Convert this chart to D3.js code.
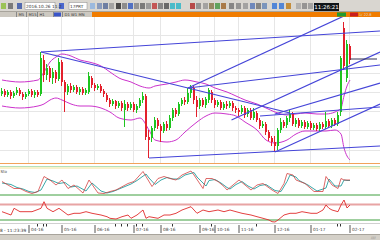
<!DOCTYPE html>
<html><head><meta charset="utf-8">
<script src="https://cdn.jsdelivr.net/npm/d3@7/dist/d3.min.js"></script>
<style>html,body{margin:0;padding:0;background:#fff;overflow:hidden}svg{display:block;font-family:"DejaVu Sans",sans-serif}</style>
</head><body><svg id="c" width="380" height="240"></svg>
<script>
// ---------- DATA ----------
const openP  = [10.6,10.9,10.5,10.8,10.4,10.7,11.0,10.6,10.3,10.6,10.9,10.5,10.8,10.6,14.0,12.5,13.2,12.2,12.8,12.1,13.8,11.8,10.8,11.4,11.0,11.3,10.8,11.1,10.7,10.8,12.2,11.5,11.2,11.4,10.9,10.5,10.0,9.6,9.9,9.4,9.7,9.0,9.6,9.2,9.6,9.0,9.4,10.0,10.4,6.3,6.2,7.2,8.0,7.4,6.9,7.6,7.2,8.2,9.0,8.6,9.6,10.0,9.8,10.7,11.2,10.0,9.4,10.0,9.5,10.0,10.8,10.0,9.5,9.8,9.2,9.6,9.4,9.7,9.2,9.0,8.8,9.2,8.6,9.0,8.2,8.7,8.0,7.4,7.6,6.8,6.2,5.8,5.4,7.0,7.8,7.5,8.2,8.6,7.6,8.0,7.4,7.8,7.3,7.7,7.2,7.5,7.1,7.6,7.3,7.9,7.4,8.0,7.6,8.8,17.2,12.2,15.4];
const closeP = [10.9,10.5,10.8,10.4,10.7,11.0,10.6,10.3,10.6,10.9,10.5,10.8,10.5,14.2,12.5,13.2,12.2,12.8,12.1,13.8,11.8,10.8,11.4,11.0,11.3,10.8,11.1,10.7,11.0,12.4,11.5,11.2,11.4,10.9,10.6,10.0,9.6,9.9,9.4,9.7,9.2,9.6,9.2,9.6,9.0,9.4,10.0,10.4,6.3,6.0,7.2,8.0,7.4,6.9,7.6,7.2,8.2,9.0,8.6,9.6,10.0,9.8,10.7,11.2,10.0,9.3,10.0,9.5,10.1,11.0,10.0,9.5,9.8,9.2,9.6,9.4,9.7,9.2,9.0,8.8,9.2,8.5,9.0,8.2,8.8,8.0,7.4,7.6,6.8,6.2,5.8,5.4,7.0,7.8,7.4,8.2,8.6,7.6,8.0,7.4,7.8,7.3,7.7,7.2,7.5,7.1,7.6,7.3,7.9,7.4,8.0,7.6,8.5,14.2,13.4,15.6,14.0];
const highP  = [11.2,11.1,11.0,11.0,10.9,11.3,11.2,10.8,10.8,11.1,11.1,11.0,11.0,14.8,14.5,13.6,13.4,13.2,13.0,14.2,14.0,12.0,11.6,11.7,11.5,11.5,11.3,11.3,11.2,12.8,12.4,11.7,11.6,11.6,11.1,10.7,10.2,10.1,10.0,9.9,9.9,10.0,9.8,9.8,9.8,9.6,10.2,10.8,10.6,7.0,7.4,8.3,8.2,7.6,7.8,7.9,8.5,9.2,9.2,9.8,10.2,10.3,11.2,11.5,11.4,10.4,10.2,10.2,10.3,11.2,11.0,10.2,10.0,10.0,9.8,9.9,9.9,9.9,9.4,9.2,9.5,9.4,9.2,9.2,9.2,8.9,8.2,7.9,7.8,7.0,6.4,6.4,7.2,8.2,8.0,8.4,9.0,8.8,8.2,8.2,8.0,8.0,7.9,7.9,7.7,7.7,7.8,7.8,8.8,8.1,8.2,8.2,8.8,14.4,17.8,16.0,15.6];
const lowP   = [10.4,10.3,10.3,10.1,10.2,10.5,10.4,10.0,10.1,10.4,10.3,10.2,10.3,10.4,11.8,12.0,11.8,11.6,11.7,11.9,11.4,8.8,10.5,10.7,10.8,10.6,10.5,10.5,10.5,10.6,11.2,10.9,11.0,10.7,10.3,9.8,9.3,9.4,9.1,9.2,8.9,7.3,8.9,9.0,8.8,8.7,9.2,9.7,6.0,4.2,5.8,6.9,7.1,5.8,6.7,6.9,7.0,7.9,8.3,8.4,9.4,9.5,9.6,10.2,9.6,8.3,9.1,9.3,9.2,9.7,9.7,9.2,9.3,9.0,9.0,9.1,9.2,8.9,8.7,8.4,8.6,8.2,8.3,8.0,8.0,7.8,7.1,7.2,6.5,5.9,5.4,4.8,5.0,6.7,7.2,7.2,7.8,7.4,7.3,7.2,7.2,7.1,7.1,7.0,7.0,6.9,6.9,7.1,7.1,7.2,7.2,7.4,7.4,8.4,13.0,11.8,13.6];
const upperBand = [[0,12.0],[6,11.8],[12,12.0],[14,12.8],[16,13.8],[18,14.3],[20,14.6],[23,14.4],[26,14.0],[29,13.8],[33,13.4],[36,12.8],[39,12.2],[43,11.8],[46,11.4],[49,11.2],[51,11.4],[55,11.6],[58,11.8],[61,12.0],[65,11.8],[68,11.6],[71,11.2],[75,10.8],[78,10.4],[81,10.0],[85,9.6],[88,9.2],[91,8.8],[95,8.5],[98,8.6],[101,8.7],[105,8.6],[108,8.6],[111,8.8],[113,9.2],[114,10.4],[115,11.4],[116,12.0]];
const lowerBand = [[0,9.4],[6,9.2],[12,9.4],[14,9.6],[16,10.0],[18,10.2],[20,10.0],[23,9.6],[26,9.4],[29,9.4],[33,9.2],[36,8.8],[39,8.2],[43,8.0],[46,8.2],[49,7.0],[51,6.0],[55,5.8],[58,6.0],[61,6.8],[65,7.8],[68,8.4],[71,8.7],[75,8.6],[78,8.4],[81,7.8],[85,7.0],[88,6.0],[91,5.7],[95,6.0],[98,6.6],[101,6.9],[105,6.9],[108,6.9],[111,7.0],[113,6.6],[114,5.2],[115,4.4],[116,4.0]];
const trendLines = [
  [[13,14.8],[126,16.9]],
  [[13,14.8],[96,8.7]],
  [[49,4.2],[126,5.4]],
  [[62,11.2],[114,18.4]],
  [[76.5,8.0],[126,14.8]],
  [[91,4.8],[126,9.6]],
  [[62,11.2],[126,13.5]],
  [[91,8.6],[126,11.7]],
  [[86,8.4],[126,9.3]]
];
const lastPrice = 14.1;
const priceGrid = [16.5,14.6,12.7,10.8,8.9,7.0,5.0];
const timeTicks  = [9,20,31,44,53,66,71,79,91,103,116];
const timeLabels = ["04-16","05-16","06-16","07-16","08-16","09-16","10-16","11-16","12-16","01-17","02-17"];
const minorTicks = [12,14,15,38,40,42,45,47,57,70,85,112,113];
const oscK = [[0,33],[2,26],[4,19],[6,19],[8,13],[10,9],[12,13],[14,43],[16,36],[18,26],[20,36],[22,19],[24,26],[27,10],[29,36],[32,10],[34,9],[36,13],[38,16],[42,29],[44,33],[47,53],[48,43],[50,23],[52,39],[54,43],[56,39],[58,36],[60,46],[63,54],[64,46],[67,19],[68,39],[70,39],[72,33],[74,23],[75,16],[77,26],[79,36],[81,26],[83,16],[85,26],[87,29],[90,16],[92,9],[94,29],[95,49],[97,46],[98,36],[101,29],[104,13],[107,13],[108,43],[110,26],[112,19],[113,39],[114,36],[116,36]];
const oscD = [[0,30],[3,27],[5,21],[7,18],[9,13],[11,11],[13,16],[15,38],[17,34],[19,29],[21,31],[23,22],[25,24],[28,14],[30,30],[33,14],[35,10],[37,13],[39,18],[43,28],[45,35],[48,48],[49,40],[51,27],[53,36],[55,41],[57,38],[59,38],[61,46],[64,51],[65,42],[68,24],[69,35],[71,37],[73,30],[75,21],[76,18],[78,27],[80,33],[82,24],[84,18],[86,25],[88,27],[91,15],[93,13],[95,33],[96,46],[98,42],[99,35],[102,26],[105,14],[108,20],[109,38],[111,24],[113,24],[114,36],[115,35],[116,35]];
const oscLevels = [60, 6];
const momentum = [[0,0.3],[3,-3],[4,3.7],[6,0.3],[10,0.3],[13,3.7],[14,10.3],[15,3.7],[17,0.3],[19,3.7],[22,-3],[24,-1.3],[26,-1.3],[28,0.3],[30,-1.3],[33,-3],[35,-4.7],[36,-6.3],[38,-7],[40,-4.7],[42,-3],[43,-6.3],[45,-3],[47,2],[48,-6.3],[49,-4.7],[52,-6.3],[54,-3],[56,-3],[58,-1.3],[60,2],[63,5.3],[65,-1.3],[67,2],[69,0.3],[72,2],[74,0.3],[76,2],[78,0.3],[80,-1.3],[83,-3],[85,-4.7],[87,-6.3],[89,-8],[90,-9.7],[91,-10],[92,-8],[94,-3],[96,-1.3],[98,-1.3],[100,0.3],[103,-1.3],[105,-1.3],[107,2],[108,7],[109,3.7],[110,2],[112,0.3],[113,7],[114,12],[115,4],[116,7]];
const momLevels = [7.5, -8];

// ---------- DRAW ----------
const W = 380, H = 240;
const svg = d3.select("#c");
const x = d3.scaleLinear().domain([0,116]).range([2,350]);
const yMain = d3.scaleLinear().domain([3.7,18.4]).range([163,16]);
const yOsc = d3.scaleLinear().domain([0,60]).range([198,168]);
const yMom = d3.scaleLinear().domain([-10,12]).range([222,200]);

// toolbar
svg.append("rect").attr("width",W).attr("height",12).attr("fill","#d9d6d0");
svg.append("line").attr("x1",0).attr("x2",W).attr("y1",11.5).attr("y2",11.5).attr("stroke","#a8a49c");
const icons = [[1,"#8fbf3f"],[8,"#6a6a6a"],[17,"#3b57a8"],[59,"#3355cc"],[90,"#8fb4e0"],[97,"#7a8fb8"],[103,"#5a6f9a"],[109,"#9a9a9a"],[116,"#333"],[122,"#7f7f7f"],[128,"#3a5fc0"],[134,"#8a8a8a"],[140,"#6a6a6a"],[146,"#909090"],[152,"#c04040"],[158,"#777"],[164,"#555"],[170,"#2fb6c8"],[176,"#2fb6c8"],[190,"#b03030"],[196,"#888"],[203,"#999"],[209,"#8a7a50"],[215,"#4a9a4a"],[221,"#a06a30"],[229,"#777"],[236,"#888"],[243,"#999"],[250,"#5a7ab8"],[256,"#777"],[262,"#6a8ab8"],[272,"#3a78d8"],[279,"#3a78d8"],[286,"#c08020"],[296,"#aaa"],[302,"#888"],[308,"#999"]];
svg.append("g").selectAll("rect").data(icons).join("rect")
  .attr("x",d=>d[0]).attr("y",3).attr("width",5).attr("height",6).attr("fill",d=>d[1]).attr("opacity",0.85);
svg.append("rect").attr("x",25).attr("y",2.5).attr("width",30).attr("height",7).attr("fill","#fff").attr("stroke","#8a8a8a").attr("stroke-width",0.5);
svg.append("text").attr("x",26).attr("y",8).attr("font-size",4.3).attr("fill","#333").text("2016.10.26 11:2");
svg.append("rect").attr("x",69).attr("y",2.5).attr("width",18).attr("height",7).attr("fill","#fff").attr("stroke","#8a8a8a").attr("stroke-width",0.5);
svg.append("text").attr("x",70).attr("y",8).attr("font-size",4.3).attr("fill","#333").text("17PRT");
svg.append("rect").attr("x",314).attr("y",3).attr("width",25).attr("height",8).attr("fill","#101418");
svg.append("text").attr("x",326.5).attr("y",9.2).attr("font-size",5.5).attr("text-anchor","middle").attr("fill","#fff").text("11:26:21");

// tab row
svg.append("rect").attr("y",12).attr("width",W).attr("height",5).attr("fill","#cdc9c1");
svg.append("rect").attr("x",92).attr("y",12).attr("width",W-92).attr("height",5).attr("fill","#f07c00");
const tabs = [[17,"M5"],[27,"M15"],[38,"H1"],[54,""],[63,"D1 W1 MN"]];
svg.append("rect").attr("x",54).attr("y",12.5).attr("width",7).attr("height",4).attr("fill","#3a55c8");
tabs.forEach(t=>{
  svg.append("line").attr("x1",t[0]-0.5).attr("x2",t[0]-0.5).attr("y1",12).attr("y2",17).attr("stroke","#888");
  svg.append("text").attr("x",t[0]+1.5).attr("y",16.2).attr("font-size",3.8).attr("fill","#333").text(t[1]);
});
svg.append("rect").attr("x",337).attr("y",12.5).attr("width",9).attr("height",4).attr("fill","#1f9a2f");
svg.append("rect").attr("x",350).attr("y",12.5).attr("width",8).attr("height",4).attr("fill","#c81e1e");
svg.append("text").attr("x",359).attr("y",16.2).attr("font-size",3.6).attr("fill","#ddd").text("1/ 22.8");

// main panel
const main = svg.append("g");
main.append("clipPath").attr("id","mclip").append("rect").attr("x",0).attr("y",17).attr("width",W).attr("height",146);
main.append("g").selectAll("line").data(priceGrid).join("line")
  .attr("x1",0).attr("x2",W).attr("y1",d=>Math.round(yMain(d))+0.5).attr("y2",d=>Math.round(yMain(d))+0.5)
  .attr("stroke","#e6e6e6");
main.append("g").selectAll("line").data(timeTicks).join("line")
  .attr("x1",d=>x(d)-0.5).attr("x2",d=>x(d)-0.5).attr("y1",17).attr("y2",163)
  .attr("stroke","#e6e6e6");

const mg = main.append("g").attr("clip-path","url(#mclip)");
const bandLine = d3.line().x(d=>x(d[0])).y(d=>yMain(d[1])).curve(d3.curveMonotoneX);
[upperBand, lowerBand].forEach(b=>mg.append("path").attr("d",bandLine(b)).attr("fill","none").attr("stroke","#cc33cc").attr("stroke-width",1));

const idx = d3.range(openP.length);
const up = i => closeP[i] >= openP[i];
const col = i => up(i) ? "#1fc41f" : "#e3202c";
mg.append("g").selectAll("line").data(idx).join("line")
  .attr("x1",i=>x(i)-0.5).attr("x2",i=>x(i)-0.5)
  .attr("y1",i=>yMain(highP[i])).attr("y2",i=>yMain(lowP[i]))
  .attr("stroke",col).attr("stroke-width",1);
mg.append("g").selectAll("rect").data(idx).join("rect")
  .attr("x",i=>x(i)-1).attr("width",2)
  .attr("y",i=>yMain(Math.max(openP[i],closeP[i])))
  .attr("height",i=>Math.max(1,Math.abs(yMain(openP[i])-yMain(closeP[i]))))
  .attr("fill",col);

mg.append("g").selectAll("line").data(trendLines).join("line")
  .attr("x1",d=>x(d[0][0])).attr("y1",d=>yMain(d[0][1]))
  .attr("x2",d=>x(d[1][0])).attr("y2",d=>yMain(d[1][1]))
  .attr("stroke","#4545d8").attr("stroke-width",1.2);
mg.append("line").attr("x1",x(116)).attr("x2",x(125)).attr("y1",yMain(lastPrice)).attr("y2",yMain(lastPrice))
  .attr("stroke","#333355").attr("stroke-width",1);

// separators
svg.append("line").attr("x1",0).attr("x2",W).attr("y1",163.5).attr("y2",163.5).attr("stroke","#f2a25a").attr("stroke-width",1.2);
svg.append("line").attr("x1",0).attr("x2",W).attr("y1",166.5).attr("y2",166.5).attr("stroke","#b8e0b8").attr("stroke-width",1);

// oscillator panel
svg.append("line").attr("x1",0).attr("x2",W).attr("y1",yOsc(oscLevels[0])).attr("y2",yOsc(oscLevels[0])).attr("stroke","#f2e49a").attr("stroke-width",1);
svg.append("line").attr("x1",0).attr("x2",W).attr("y1",yOsc(oscLevels[1])).attr("y2",yOsc(oscLevels[1])).attr("stroke","#3f9f3f").attr("stroke-width",1);
const oLine = d3.line().x(d=>x(d[0])).y(d=>yOsc(d[1]));
svg.append("path").attr("d",oLine(oscD)).attr("fill","none").attr("stroke","#3aa8a8").attr("stroke-width",1);
svg.append("path").attr("d",oLine(oscK)).attr("fill","none").attr("stroke","#d23a3a").attr("stroke-width",0.9).attr("opacity",0.85);
svg.append("text").attr("x",0.5).attr("y",173).attr("font-size",4).attr("fill","#444").text("Sto");

// momentum panel
svg.append("line").attr("x1",0).attr("x2",W).attr("y1",yMom(momLevels[0])).attr("y2",yMom(momLevels[0])).attr("stroke","#e8a4a4").attr("stroke-width",2);
svg.append("line").attr("x1",0).attr("x2",W).attr("y1",yMom(momLevels[1])).attr("y2",yMom(momLevels[1])).attr("stroke","#3f9f3f").attr("stroke-width",1);
const mLine = d3.line().x(d=>x(d[0])).y(d=>yMom(d[1]));
svg.append("path").attr("d",mLine(momentum)).attr("fill","none").attr("stroke","#e02a2a").attr("stroke-width",0.9);

// time axis
svg.append("line").attr("x1",0).attr("x2",W).attr("y1",223.5).attr("y2",223.5).attr("stroke","#d0d0d0");
const ax = svg.append("g").attr("transform","translate(0,225)")
  .call(d3.axisBottom(x).tickValues(timeTicks).tickFormat((d,i)=>timeLabels[i]).tickSize(8).tickPadding(0));
ax.select(".domain").remove();
ax.selectAll(".tick line").attr("stroke","#555").attr("transform","translate(-0.5,0)");
ax.selectAll(".tick text").attr("text-anchor","start").attr("x",1.5).attr("y",3.2).attr("dy","0.71em")
  .attr("font-size",4.3).attr("fill","#444").attr("font-family","DejaVu Sans");
svg.append("g").selectAll("line").data(minorTicks).join("line")
  .attr("x1",d=>x(d)-0.5).attr("x2",d=>x(d)-0.5).attr("y1",224).attr("y2",226.5).attr("stroke","#333");
svg.append("text").attr("x",0).attr("y",231.5).attr("font-size",4.3).attr("fill","#333").text("8 - 11:23:39");

// status bar
svg.append("rect").attr("y",234).attr("width",W).attr("height",6).attr("fill","#d4d0c8");
svg.append("line").attr("x1",0).attr("x2",W).attr("y1",234.5).attr("y2",234.5).attr("stroke","#a8a49c");
svg.append("text").attr("x",371).attr("y",238.5).attr("font-size",3.5).attr("fill","#777").text("////");
</script></body></html>
